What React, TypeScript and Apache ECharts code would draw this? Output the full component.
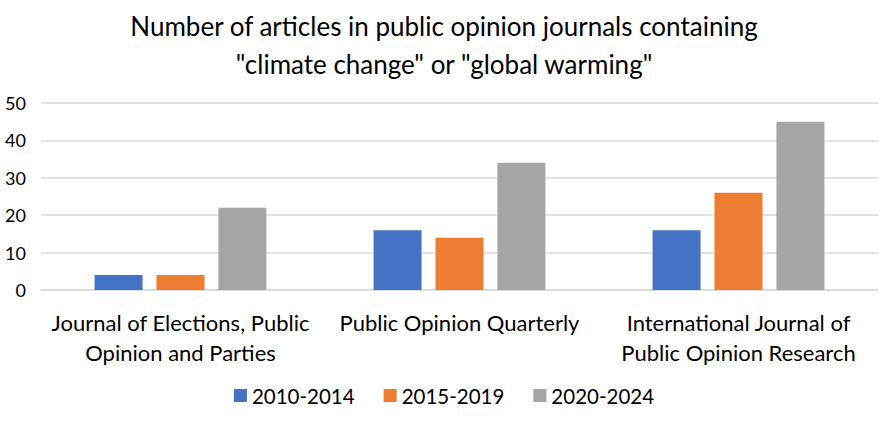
import React, { useEffect, useRef } from "react";
import * as echarts from "echarts";

const categories = [
  "Journal of Elections, Public\nOpinion and Parties",
  "Public Opinion Quarterly",
  "International Journal of\nPublic Opinion Research",
];
const seriesNames = ["2010-2014", "2015-2019", "2020-2024"];
const values2010 = [4, 16, 16];
const values2015 = [4, 14, 26];
const values2020 = [22, 34, 45];
const colors = ["#4472C4", "#ED7D31", "#A5A5A5"];
const titleText =
  'Number of articles in public opinion journals containing\n"climate change" or "global warming"';

const FONT = "Lato, 'Open Sans', sans-serif";

export default function App() {
  const ref = useRef<HTMLDivElement>(null);
  useEffect(() => {
    if (!ref.current) return;
    const chart = echarts.init(ref.current, undefined, { renderer: "svg" });
    const data = [values2010, values2015, values2020];
    chart.setOption({
      animation: false,
      color: colors,
      textStyle: { fontFamily: FONT },
      title: {
        text: titleText,
        left: "center",
        top: 2,
        textStyle: {
          fontFamily: FONT,
          fontSize: 26,
          fontWeight: "normal",
          color: "#000",
          lineHeight: 38,
        },
      },
      legend: {
        top: 380,
        left: "center",
        itemWidth: 13,
        itemHeight: 13,
        itemGap: 29,
        icon: "rect",
        textStyle: { fontFamily: FONT, fontSize: 20.5, color: "#000" },
        data: seriesNames,
      },
      grid: { left: 41, right: 10, top: 103, bottom: 134, containLabel: false },
      xAxis: {
        type: "category",
        data: categories,
        axisLine: { show: true, lineStyle: { color: "#D9D9D9", width: 1.5 } },
        axisTick: { show: false },
        axisLabel: {
          fontFamily: FONT,
          fontSize: 22,
          color: "#000",
          lineHeight: 30,
          margin: 17,
          interval: 0,
        },
      },
      yAxis: {
        type: "value",
        min: 0,
        max: 50,
        interval: 10,
        axisLine: { show: false },
        axisTick: { show: false },
        splitLine: { lineStyle: { color: "#D9D9D9", width: 1.5 } },
        axisLabel: { fontFamily: FONT, fontSize: 18, color: "#000", margin: 15 },
      },
      series: seriesNames.map((name, i) => ({
        name,
        type: "bar",
        data: data[i],
        barWidth: 48,
        barGap: "29%",
        itemStyle: { color: colors[i] },
      })),
    });
    return () => chart.dispose();
  }, []);
  return (
    <div
      ref={ref}
      style={{ position: "absolute", left: 0, top: 0, width: 888, height: 424 }}
    />
  );
}
